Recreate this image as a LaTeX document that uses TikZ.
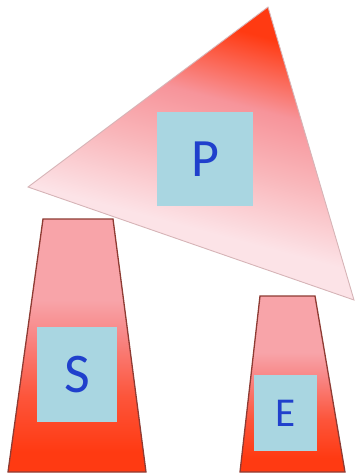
\documentclass[tikz,border=0pt]{standalone}
\usepackage{fontspec}
\setmainfont{Carlito}
\definecolor{redtop}{HTML}{FF3A12}
\definecolor{pinkmid}{HTML}{F7949A}
\definecolor{pinksoft}{HTML}{F9B6BA}
\definecolor{pinklight}{HTML}{FCE3E7}
\definecolor{trapstroke}{HTML}{8E3B33}
\definecolor{tristroke}{HTML}{D6B4B7}
\definecolor{sqfill}{HTML}{A9D6E1}
\definecolor{letterblue}{HTML}{2040CC}
\pgfdeclareverticalshading{trapshade}{100bp}{
  color(0bp)=(redtop); color(29bp)=(redtop); color(40bp)=(redtop!70!pinkmid);
  color(52bp)=(pinkmid!85!redtop); color(59bp)=(pinkmid!85!white); color(100bp)=(pinkmid!85!white)}
\pgfdeclareverticalshading{trishade}{100bp}{
  color(0bp)=(pinklight); color(38bp)=(pinklight); color(50bp)=(pinksoft);
  color(60bp)=(pinkmid); color(72bp)=(redtop); color(100bp)=(redtop)}
\tikzset{
  sq/.style={fill=sqfill, draw=none, inner sep=0pt, text=letterblue},
  trap/.style={draw=trapstroke, line width=1.3pt, shading=trapshade},
  tri/.style={draw=tristroke, line width=0.9pt, shading=trishade, shading angle=-15}
}
\begin{document}
\begin{tikzpicture}[x=1pt,y=-1pt]
\useasboundingbox (0,0) rectangle (356,475);
% triangle
\path[tri] (268,7) -- (28,187) -- (354,300) -- cycle;
% S trapezoid
\path[trap] (43,219) -- (113,219) -- (146,472) -- (8,472) -- cycle;
% E trapezoid
\path[trap] (260,296) -- (315,296) -- (345,472) -- (240,472) -- cycle;
% squares
\node[sq, minimum width=96pt, minimum height=94pt, font=\fontsize{54}{54}\selectfont] (P) at (205,159) {P};
\node[sq, minimum width=80pt, minimum height=95pt, font=\fontsize{56}{56}\selectfont] (S) at (77,374.5) {S};
\node[sq, minimum width=63pt, minimum height=76pt, font=\fontsize{41}{41}\selectfont] (E) at (285.5,413) {E};
\end{tikzpicture}
\end{document}
